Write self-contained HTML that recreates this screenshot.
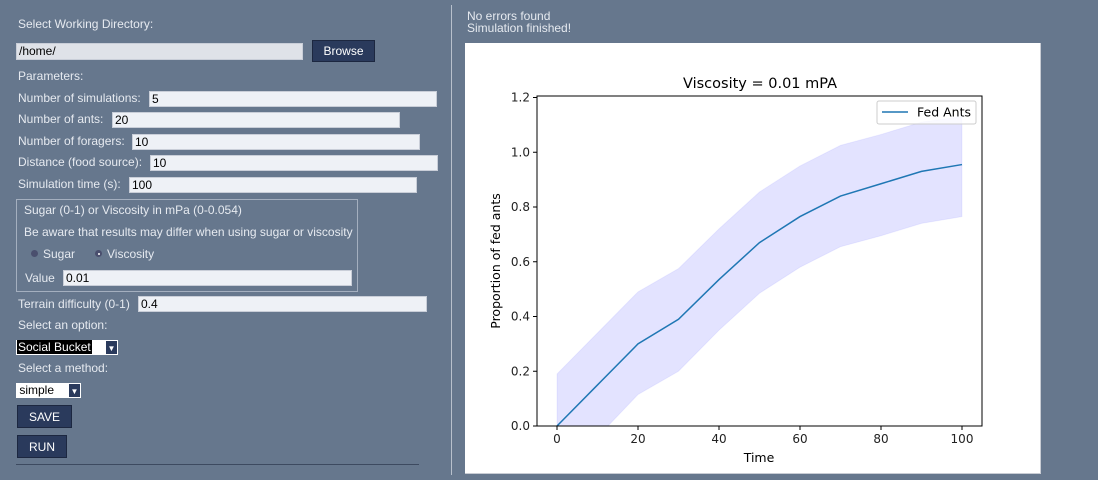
<!DOCTYPE html>
<html><head><meta charset="utf-8">
<style>
body{margin:0;width:1098px;height:480px;background:#66778d;font-family:"Liberation Sans",sans-serif;font-size:12px;color:#e6eaf0;position:relative;overflow:hidden}
.a{position:absolute}
.lbl{position:absolute;white-space:nowrap}
.inp{position:absolute;background:#eef1f6;border:1px solid #c9ced8;height:14px;color:#000;font-size:12px;line-height:14px;padding-left:2px;box-sizing:content-box}
.btn{position:absolute;background:#2a3a5c;border:1px solid #1c2740;color:#fff;text-align:center;font-size:12px}
</style></head><body>
<div class="lbl" style="left:18px;top:17px">Select Working Directory:</div>
<div class="inp" style="left:16px;top:43px;width:283px;height:15px;background:#dfe2e8">/home/</div>
<button class="btn" style="left:312px;top:40px;width:63px;height:22px">Browse</button>
<div class="lbl" style="left:18px;top:69px">Parameters:</div>
<div class="lbl" style="left:18px;top:91px">Number of simulations:</div>
<div class="inp" style="left:149px;top:91px;width:284px">5</div>
<div class="lbl" style="left:18px;top:112px">Number of ants:</div>
<div class="inp" style="left:112px;top:112px;width:284px">20</div>
<div class="lbl" style="left:18px;top:134px">Number of foragers:</div>
<div class="inp" style="left:132px;top:134px;width:284px">10</div>
<div class="lbl" style="left:18px;top:155px">Distance (food source):</div>
<div class="inp" style="left:150px;top:155px;width:284px">10</div>
<div class="lbl" style="left:18px;top:177px">Simulation time (s):</div>
<div class="inp" style="left:129px;top:177px;width:284px">100</div>
<div class="a" style="left:16px;top:199px;width:340px;height:91px;border:1px solid #a4afbf"></div>
<div class="lbl" style="left:24px;top:203px">Sugar (0-1) or Viscosity in mPa (0-0.054)</div>
<div class="lbl" style="left:24px;top:225px">Be aware that results may differ when using sugar or viscosity</div>
<div class="a" style="left:31px;top:250px;width:7px;height:7px;border-radius:50%;background:#4a4f6e"></div>
<div class="lbl" style="left:43px;top:247px">Sugar</div>
<div class="a" style="left:95px;top:250px;width:7px;height:7px;border-radius:50%;background:#4a4f6e"><div class="a" style="left:2.5px;top:2.5px;width:2px;height:2px;background:#fff;border-radius:50%"></div></div>
<div class="lbl" style="left:107px;top:247px">Viscosity</div>
<div class="lbl" style="left:25px;top:271px">Value</div>
<div class="inp" style="left:63px;top:270px;width:285px">0.01</div>
<div class="lbl" style="left:18px;top:297px">Terrain difficulty (0-1)</div>
<div class="inp" style="left:138px;top:296px;width:285px">0.4</div>
<div class="lbl" style="left:18px;top:318px">Select an option:</div>
<div class="a" style="left:16px;top:340px;width:102px;height:15px;background:#fff"><div class="a" style="left:1px;top:0;background:#000;color:#fff;height:14px;line-height:14px;width:74px;padding-left:1px">Social Bucket</div><div class="a" style="left:90px;top:1px;width:11px;height:13px;background:#2a3a5c;color:#fff;font-size:8px;text-align:center;line-height:15px">▼</div></div>
<div class="lbl" style="left:18px;top:361px">Select a method:</div>
<div class="a" style="left:16px;top:383px;width:65px;height:15px;background:#fff;color:#000;line-height:14px">&nbsp;simple<div class="a" style="left:53px;top:1px;width:11px;height:13px;background:#2a3a5c;color:#fff;font-size:8px;text-align:center;line-height:15px">▼</div></div>
<button class="btn" style="left:17px;top:405px;width:55px;height:23px">SAVE</button>
<button class="btn" style="left:17px;top:435px;width:50px;height:23px">RUN</button>
<div class="a" style="left:16px;top:464px;width:403px;height:1px;background:#3d4a60"></div>
<div class="a" style="left:451px;top:5px;width:1px;height:470px;background:#b8c0cc"></div>
<div class="lbl" style="left:467px;top:10px;line-height:12px">No errors found<br>Simulation finished!</div>
<div class="a" style="left:465px;top:43px;width:575px;height:430px;background:#fff;border-right:1px solid #c8ccd4;border-bottom:1px solid #c8ccd4"></div>
<svg class="a" style="left:0;top:0" width="1098" height="480" id="chart" font-family="'DejaVu Sans',sans-serif"></svg>
<script>
const times=[0,10,20,30,40,50,60,70,80,90,100];
const meanFed=[0,0.15,0.30,0.39,0.535,0.67,0.765,0.84,0.885,0.93,0.955];
const upperFed=[0.19,0.34,0.49,0.575,0.72,0.855,0.95,1.025,1.065,1.11,1.13];
const lowerFed=[-0.19,-0.04,0.115,0.20,0.35,0.485,0.58,0.655,0.695,0.74,0.765];
const xTicks=[0,20,40,60,80,100];
const yTicks=[0.0,0.2,0.4,0.6,0.8,1.0,1.2];
const L=537,R=982,T=96,B=426;
const sx=v=>557+(v/100)*(962-557);
const sy=v=>B-(v/1.2)*(B-97.5);
const svg=document.getElementById('chart');
const NS='http://www.w3.org/2000/svg';
function mk(t,a,p){const e=document.createElementNS(NS,t);for(const k in a)e.setAttribute(k,a[k]);(p||svg).appendChild(e);return e;}
const defs=mk('defs',{});const cp=mk('clipPath',{id:'clp'},defs);mk('rect',{x:L,y:T,width:R-L,height:B-T},cp);
let d=times.map((t,i)=>(i?'L':'M')+sx(t)+','+sy(upperFed[i])).join('');
for(let i=times.length-1;i>=0;i--)d+='L'+sx(times[i])+','+sy(lowerFed[i]);
const band=mk('path',{d:d+'Z',fill:'#0000ff','fill-opacity':0.11,stroke:'#0000ff','stroke-opacity':0.06,'clip-path':'url(#clp)'});


const line=mk('polyline',{points:times.map((t,i)=>sx(t)+','+sy(meanFed[i])).join(' '),fill:'none',stroke:'#1f77b4','stroke-width':1.5});


mk('rect',{x:L,y:T,width:R-L,height:B-T,fill:'none',stroke:'#000','stroke-width':1});
xTicks.forEach(v=>{mk('line',{x1:sx(v),x2:sx(v),y1:B,y2:B+4,stroke:'#000'});const t=mk('text',{x:sx(v),y:B+17,'text-anchor':'middle','font-size':12,fill:'#222'});t.textContent=v;

});
yTicks.forEach(v=>{mk('line',{x1:L-4,x2:L,y1:sy(v),y2:sy(v),stroke:'#000'});const t=mk('text',{x:L-7,y:sy(v)+4,'text-anchor':'end','font-size':12,fill:'#222'});t.textContent=v.toFixed(1);

});
const ti=mk('text',{x:760,y:88,'text-anchor':'middle','font-size':14.5,fill:'#000'});ti.textContent='Viscosity = 0.01 mPA';


const xl=mk('text',{x:759,y:462,'text-anchor':'middle','font-size':12.5,fill:'#000'});xl.textContent='Time';


const yl=mk('text',{x:0,y:0,'text-anchor':'middle','font-size':12.5,fill:'#000',transform:'translate(500,261) rotate(-90)'});yl.textContent='Proportion of fed ants';


const lg=mk('g',{});


mk('rect',{x:877,y:101,width:99,height:23,rx:2,fill:'#fff','fill-opacity':0.8,stroke:'#ccc'},lg);
mk('line',{x1:882,x2:908,y1:112,y2:112,stroke:'#1f77b4','stroke-width':1.5},lg);
const lt=mk('text',{x:917,y:116.5,'font-size':12.5,fill:'#000'},lg);lt.textContent='Fed Ants';
</script>
</body></html>
